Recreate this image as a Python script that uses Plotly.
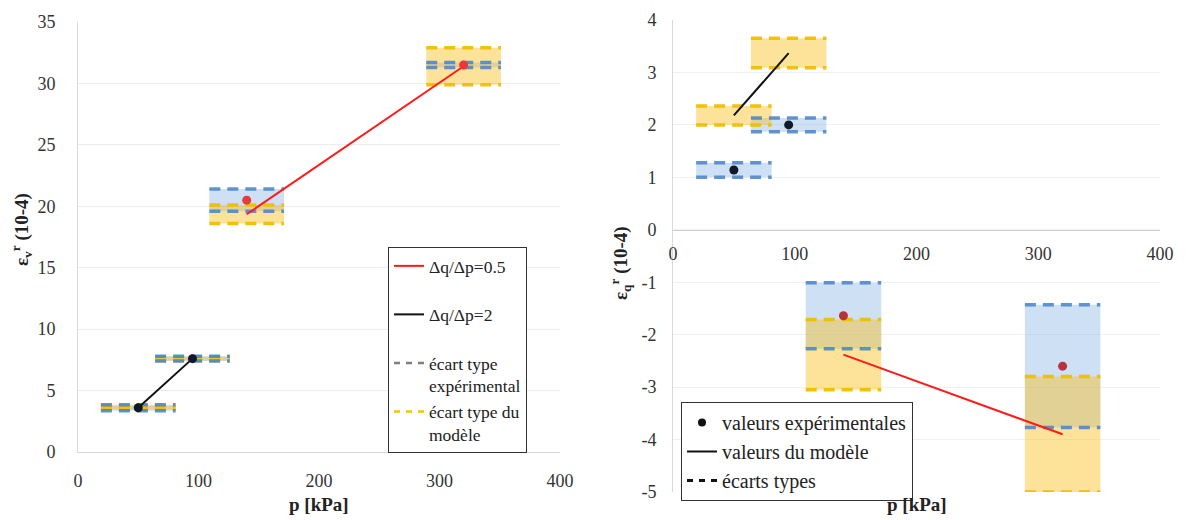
import plotly.graph_objects as go

# ---------------- data ----------------
# path dq/dp = 2 (low stress) and dq/dp = 0.5 (high stress)
p_path2 = [50, 95]
p_path05 = [140, 320]

# volumetric strain eps_v^r (10-4)
ev_exp_2 = [3.6, 7.6]
ev_exp_sd_2 = [0.25, 0.2]
ev_mod_2 = [3.6, 7.6]
ev_mod_sd_2 = [0.15, 0.15]
ev_exp_05 = [20.5, 31.5]
ev_exp_sd_05 = [0.9, 0.2]
ev_mod_05 = [19.35, 31.4]
ev_mod_sd_05 = [0.75, 1.5]

# deviatoric strain eps_q^r (10-4)
eq_exp_2 = [1.14, 2.0]
eq_exp_sd_2 = [0.14, 0.13]
eq_mod_2 = [2.18, 3.37]
eq_mod_sd_2 = [0.18, 0.28]
eq_exp_05 = [-1.64, -2.6]
eq_exp_sd_05 = [0.63, 1.17]
eq_mod_05 = [-2.38, -3.9]
eq_mod_sd_05 = [0.67, 1.1]

band_half_width = 31  # kPa

x_ticks = [0, 100, 200, 300, 400]
ev_ticks = [0, 5, 10, 15, 20, 25, 30, 35]
eq_ticks = [4, 3, 2, 1, 0, -1, -2, -3, -4, -5]
eq_tick_labels = ["4", "3", "2", "1", "0", "-1", "-2", "-3", "-4", "-5"]

leg1_names = ["Δq/Δp=0.5<br> ", "Δq/Δp=2<br> ", "écart type<br>expérimental", "écart type du<br>modèle"]
leg2_names = ["valeurs expérimentales", "valeurs du modèle", "écarts types"]

# ---------------- style ----------------
# page body keeps an 8px margin: figure coordinates are offset from window pixels
OX, OY = 8, 8
FW, FH = 1178, 512


def pxx(v):
    return (v - OX) / FW


def pxy(v):
    return 1 - (v - OY) / FH


SERIF = "Liberation Serif, Times New Roman, serif"
BLUE_FILL = "rgba(135,182,228,0.42)"
BLUE_DASH = "rgba(70,130,200,0.85)"
YEL_FILL = "rgba(250,190,30,0.45)"
YEL_DASH = "rgba(240,190,0,0.95)"
DASH = "11px,7px"

fig = go.Figure()


def band_fill(p, val, sd, fill, xa, ya):
    x0, x1 = p - band_half_width, p + band_half_width
    lo, hi = val - sd, val + sd
    fig.add_trace(go.Scatter(x=[x0, x1, x1, x0, x0], y=[lo, lo, hi, hi, lo], mode="lines",
                             fill="toself", fillcolor=fill, line=dict(width=0),
                             hoverinfo="skip", showlegend=False, xaxis=xa, yaxis=ya))


def band_dash(p, val, sd, color, xa, ya):
    x0, x1 = p - band_half_width, p + band_half_width
    lo, hi = val - sd, val + sd
    fig.add_trace(go.Scatter(x=[x0, x1, None, x0, x1], y=[hi, hi, None, lo, lo], mode="lines",
                             line=dict(color=color, width=3.5, dash=DASH),
                             hoverinfo="skip", showlegend=False, xaxis=xa, yaxis=ya))


panels = [
    ("x", "y", ev_exp_2, ev_exp_sd_2, ev_mod_2, ev_mod_sd_2, ev_exp_05, ev_exp_sd_05, ev_mod_05, ev_mod_sd_05, "#e83a3a"),
    ("x2", "y2", eq_exp_2, eq_exp_sd_2, eq_mod_2, eq_mod_sd_2, eq_exp_05, eq_exp_sd_05, eq_mod_05, eq_mod_sd_05, "#b8343a"),
]

for xa, ya, e2, es2, m2, ms2, e05, es05, m05, ms05, dotred in panels:
    for i, p in enumerate(p_path2):
        band_fill(p, e2[i], es2[i], BLUE_FILL, xa, ya)
    for i, p in enumerate(p_path05):
        band_fill(p, e05[i], es05[i], BLUE_FILL, xa, ya)
    for i, p in enumerate(p_path2):
        band_fill(p, m2[i], ms2[i], YEL_FILL, xa, ya)
    for i, p in enumerate(p_path05):
        band_fill(p, m05[i], ms05[i], YEL_FILL, xa, ya)
    for i, p in enumerate(p_path2):
        band_dash(p, m2[i], ms2[i], YEL_DASH, xa, ya)
        band_dash(p, e2[i], es2[i], BLUE_DASH, xa, ya)
    for i, p in enumerate(p_path05):
        band_dash(p, e05[i], es05[i], BLUE_DASH, xa, ya)
        band_dash(p, m05[i], ms05[i], YEL_DASH, xa, ya)
    fig.add_trace(go.Scatter(x=p_path05, y=m05, mode="lines", line=dict(color="#ff1a1a", width=2),
                             showlegend=False, xaxis=xa, yaxis=ya))
    fig.add_trace(go.Scatter(x=p_path2, y=m2, mode="lines", line=dict(color="#111111", width=2),
                             showlegend=False, xaxis=xa, yaxis=ya))
    fig.add_trace(go.Scatter(x=p_path05, y=e05, mode="markers", marker=dict(color=dotred, size=9),
                             showlegend=False, xaxis=xa, yaxis=ya))
    fig.add_trace(go.Scatter(x=p_path2, y=e2, mode="markers", marker=dict(color="#10182a", size=9),
                             showlegend=False, xaxis=xa, yaxis=ya))

# ---------------- legend-only entries ----------------
leg1_styles = [
    dict(color="#ff1a1a", width=2),
    dict(color="#111111", width=2),
    dict(color="#7f7f7f", width=2.5, dash="6px,6px"),
    dict(color="#f0c800", width=2.5, dash="6px,6px"),
]
for name, st in zip(leg1_names, leg1_styles):
    fig.add_trace(go.Scatter(x=[None], y=[None], mode="lines", name=name, line=st,
                             legend="legend"))

fig.add_trace(go.Scatter(x=[None], y=[None], mode="markers", name=leg2_names[0],
                         marker=dict(color="#111111", size=8), legend="legend2"))
fig.add_trace(go.Scatter(x=[None], y=[None], mode="lines", name=leg2_names[1],
                         line=dict(color="#111111", width=2), legend="legend2"))
fig.add_trace(go.Scatter(x=[None], y=[None], mode="lines", name=leg2_names[2],
                         line=dict(color="#111111", width=3, dash="6px,6px"), legend="legend2"))

# ---------------- layout ----------------
L_X = [pxx(78), pxx(560)]
L_Y = [pxy(452), pxy(22)]
R_X = [pxx(673), pxx(1160)]
R_Y = [pxy(492), pxy(20)]
eq_min, eq_max = min(eq_ticks), max(eq_ticks)
x2_pos = R_Y[0] + (0 - eq_min) / (eq_max - eq_min) * (R_Y[1] - R_Y[0])

tickfont = dict(family=SERIF, size=18, color="#333333")
textfont = dict(family=SERIF, size=19, color="#222222")

fig.update_layout(
    width=FW, height=FH,
    margin=dict(l=0, r=0, t=0, b=0, autoexpand=False),
    paper_bgcolor="white", plot_bgcolor="white",
    font=dict(family=SERIF),
    xaxis=dict(domain=L_X, range=[0, 400], tickvals=x_ticks, tickfont=tickfont,
               showgrid=False, zeroline=False, showline=True, linecolor="#d9d9d9",
               ticks="", ticklabelstandoff=12, anchor="y", automargin=False),
    yaxis=dict(domain=L_Y, range=[0, 35], tickvals=ev_ticks, tickfont=tickfont,
               showgrid=True, gridcolor="#ececec", zeroline=False, showline=True,
               linecolor="#d9d9d9", ticks="", ticklabelstandoff=18, anchor="x", automargin=False),
    xaxis2=dict(domain=R_X, range=[0, 400], tickvals=x_ticks, tickfont=tickfont,
                showgrid=False, zeroline=False, showline=True, linecolor="#d0d0d0",
                ticks="", ticklabelstandoff=8, anchor="free", position=x2_pos, automargin=False),
    yaxis2=dict(domain=R_Y, range=[eq_min, eq_max], tickvals=eq_ticks, ticktext=eq_tick_labels,
                tickfont=tickfont, showgrid=True, gridcolor="#f0f0f0", zeroline=False,
                showline=True, linecolor="#d9d9d9", ticks="", ticklabelstandoff=12,
                anchor="x2", automargin=False),
    legend=dict(x=pxx(388), y=pxy(247), xanchor="left", yanchor="top",
                bgcolor="white", bordercolor="#333333", borderwidth=1, valign="top",
                font=dict(family=SERIF, size=17.5, color="#222222"), itemwidth=30),
    legend2=dict(x=pxx(681), y=pxy(402), xanchor="left", yanchor="top",
                 bgcolor="white", bordercolor="#333333", borderwidth=1,
                 font=dict(family=SERIF, size=20, color="#222222"), itemwidth=30),
    annotations=[
        dict(text="<b>p [kPa]</b>", x=(L_X[0] + L_X[1]) / 2, y=pxy(504), xref="paper", yref="paper",
             xanchor="center", yanchor="middle", showarrow=False, font=textfont),
        dict(text="<b>p [kPa]</b>", x=(R_X[0] + R_X[1]) / 2, y=pxy(504), xref="paper", yref="paper",
             xanchor="center", yanchor="middle", showarrow=False, font=textfont),
        dict(text="<b>ε<sub>v</sub><sup>r</sup> (10-4)</b>", x=pxx(21), y=pxy(230), xref="paper",
             yref="paper", xanchor="center", yanchor="middle", showarrow=False, textangle=-90,
             font=textfont),
        dict(text="<b>ε<sub>q</sub><sup>r</sup> (10-4)</b>", x=pxx(620), y=pxy(263), xref="paper",
             yref="paper", xanchor="center", yanchor="middle", showarrow=False, textangle=-90,
             font=textfont),
    ],
)

fig.write_html("out.html")
